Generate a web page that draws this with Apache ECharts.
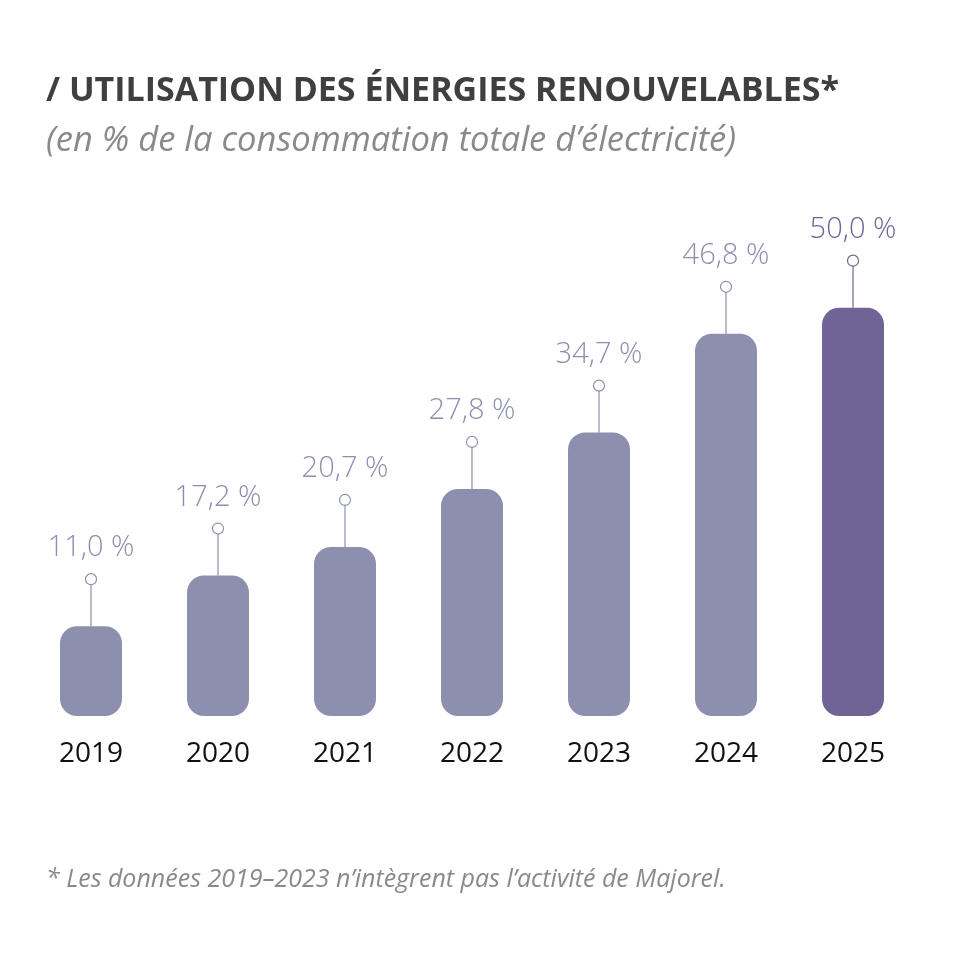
<!DOCTYPE html>
<html>
<head>
<meta charset="utf-8">
<script src="https://cdn.jsdelivr.net/npm/echarts@6/dist/echarts.min.js"></script>
<style>
  html, body { margin: 0; padding: 0; background: #fff; }
  #chart { width: 960px; height: 965px; }
</style>
</head>
<body>
<div id="chart"></div>
<script>
// donnees
var years = ['2019', '2020', '2021', '2022', '2023', '2024', '2025'];
var values = [11.0, 17.2, 20.7, 27.8, 34.7, 46.8, 50.0];
var valueLabels = ['11,0 %', '17,2 %', '20,7 %', '27,8 %', '34,7 %', '46,8 %', '50,0 %'];

// couleurs
var barColor = '#8c90ae', lastColor = '#706496';
var fontFamily = '"Open Sans", "Noto Sans", sans-serif';

function colorAt(i) {
    return i === years.length - 1 ? lastColor : barColor;
}

var chart = echarts.init(document.getElementById('chart'));

var option = {
    animation: false,
    grid: { left: 27.5, right: 43.5, top: 226, bottom: 249 },
    xAxis: {
        type: 'category',
        data: years,
        axisLine: { show: false },
        axisTick: { show: false },
        axisLabel: {
            color: '#111',
            fontSize: 28,
            fontFamily: fontFamily,
            margin: 24
        }
    },
    yAxis: {
        type: 'value',
        min: 0,
        max: 60,
        show: false
    },
    graphic: [
        {
            type: 'text', left: 46, top: 74,
            style: {
                text: '/ UTILISATION DES ÉNERGIES RENOUVELABLES*',
                fill: '#3f3f3f', fontSize: 34, fontWeight: 'bold', fontFamily: fontFamily
            }
        },
        {
            type: 'text', left: 46, top: 124,
            style: {
                text: '(en % de la consommation totale d\u2019électricité)',
                fill: '#8a8a8a', fontSize: 34.5, fontStyle: 'italic', fontFamily: fontFamily
            }
        },
        {
            type: 'text', left: 46, top: 867,
            style: {
                text: '* Les données 2019\u20132023 n\u2019intègrent pas l\u2019activité de Majorel.',
                fill: '#8a8a8a', fontSize: 25, fontStyle: 'italic', fontFamily: fontFamily
            }
        }
    ],
    series: [
        {
            type: 'bar',
            barWidth: 62,
            data: values.map(function (v, i) {
                return { value: v, itemStyle: { color: colorAt(i) } };
            }),
            itemStyle: { borderRadius: 17 }
        },
        {
            // tige + cercle + etiquette au-dessus de chaque barre
            type: 'custom',
            data: values.map(function (v, i) { return [i, v]; }),
            encode: { x: 0, y: 1 },
            z: 5,
            renderItem: function (params, api) {
                var i = params.dataIndex;
                var pt = api.coord([api.value(0), api.value(1)]);
                var c = colorAt(i);
                return {
                    type: 'group',
                    children: [
                        {
                            type: 'line',
                            shape: { x1: pt[0], y1: pt[1], x2: pt[0], y2: pt[1] - 42 },
                            style: { stroke: c, lineWidth: 1.2 }
                        },
                        {
                            type: 'circle',
                            shape: { cx: pt[0], cy: pt[1] - 47, r: 5.5 },
                            style: { fill: '#fff', stroke: c, lineWidth: 1.2 }
                        },
                        {
                            type: 'text',
                            x: pt[0],
                            y: pt[1] - 78,
                            style: {
                                text: valueLabels[i],
                                fill: c,
                                fontSize: 29,
                                fontWeight: 300,
                                fontFamily: fontFamily,
                                align: 'center',
                                verticalAlign: 'middle'
                            }
                        }
                    ]
                };
            }
        }
    ]
};

chart.setOption(option);
</script>
</body>
</html>
